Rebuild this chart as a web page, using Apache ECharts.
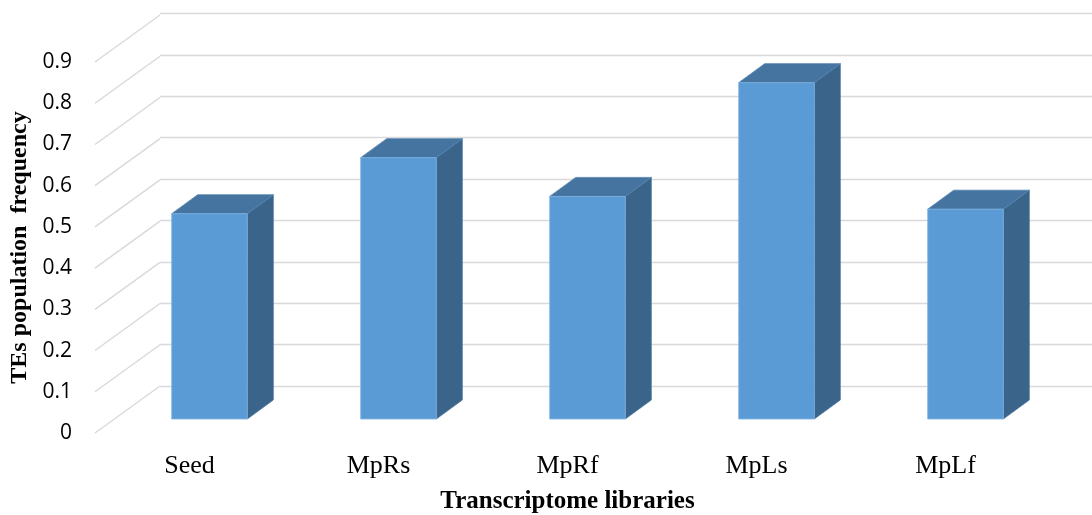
<!DOCTYPE html>
<html>
<head>
<meta charset="utf-8">
<script src="https://cdn.jsdelivr.net/npm/echarts@6/dist/echarts.min.js"></script>
<style>
  html, body { margin: 0; padding: 0; background: #fff; }
  #chart { width: 1092px; height: 515px; }
</style>
</head>
<body>
<div id="chart"></div>
<script>
// data
var libraries = ['Seed', 'MpRs', 'MpRf', 'MpLs', 'MpLf'];
var frequency = [0.498, 0.634, 0.54, 0.816, 0.509];
var freqTicks = [0, 0.1, 0.2, 0.3, 0.4, 0.5, 0.6, 0.7, 0.8, 0.9];

var chart = echarts.init(document.getElementById('chart'));

// depth of the floor (front edge -> back wall) and of one bar, in px
var floorDX = 65, floorDY = -47;
var barDX = 26, barDY = -19;

// diagonal floor / side-wall lines, starting on the front edge
function renderDiag(params, api) {
    var y = api.coord([0, api.value(1)])[1];
    var x = params.coordSys.x;
    return {
        type: 'line',
        shape: { x1: x, y1: y, x2: x + floorDX, y2: y + floorDY },
        style: { stroke: '#d9d9d9', lineWidth: 1.4 }
    };
}

// 3d column: side, top and front faces
function renderBar(params, api) {
    var top = api.coord([api.value(0), api.value(1)]);
    var base = api.coord([api.value(0), 0]);
    var w = api.size([1, 0])[0] * 0.4;
    var x0 = top[0] - w / 2, x1 = top[0] + w / 2;
    var y0 = top[1], y1 = base[1];
    return {
        type: 'group',
        children: [
            {
                type: 'polygon',
                shape: { points: [[x1, y1], [x1 + barDX, y1 + barDY], [x1 + barDX, y0 + barDY], [x1, y0]] },
                style: { fill: '#3A6489', stroke: '#4a76a0', lineWidth: 0.8 }
            },
            {
                type: 'polygon',
                shape: { points: [[x0, y0], [x1, y0], [x1 + barDX, y0 + barDY], [x0 + barDX, y0 + barDY]] },
                style: { fill: '#44749F', stroke: '#5684b0', lineWidth: 0.8 }
            },
            {
                type: 'polygon',
                shape: { points: [[x0, y1], [x1, y1], [x1, y0], [x0, y0]] },
                style: { fill: '#5B9BD5', stroke: '#7fb2e2', lineWidth: 0.8 }
            }
        ]
    };
}

var option = {
    backgroundColor: '#fff',
    animation: false,
    grid: [
        // back wall
        { left: 160, right: 0, top: 13.5, bottom: 129, outerBoundsMode: 'none', containLabel: false },
        // front edge of the floor (labels, titles)
        { left: 95, right: 52, top: 62, bottom: 82, outerBoundsMode: 'none', containLabel: false },
        // plane of the columns
        { left: 115, right: 32, top: 48, bottom: 96, outerBoundsMode: 'none', containLabel: false }
    ],
    xAxis: [
        { gridIndex: 0, type: 'value', min: 0, max: 1, show: false },
        {
            gridIndex: 1,
            type: 'category',
            data: libraries,
            axisLine: { show: false },
            axisTick: { show: false },
            axisLabel: {
                margin: 20,
                fontFamily: 'Liberation Serif',
                fontSize: 26,
                color: '#000'
            },
            name: 'Transcriptome libraries',
            nameLocation: 'middle',
            nameGap: 56,
            nameTextStyle: {
                fontFamily: 'Liberation Serif',
                fontWeight: 'bold',
                fontSize: 25,
                color: '#000'
            }
        },
        { gridIndex: 2, type: 'category', data: libraries, show: false }
    ],
    yAxis: [
        {
            gridIndex: 0,
            type: 'value',
            min: 0, max: 0.9, interval: 0.1,
            axisLine: { show: false },
            axisTick: { show: false },
            axisLabel: { show: false },
            splitLine: { lineStyle: { color: '#d9d9d9', width: 1.4 } }
        },
        {
            gridIndex: 1,
            type: 'value',
            min: 0, max: 0.9, interval: 0.1,
            axisLine: { show: false },
            axisTick: { show: false },
            splitLine: { show: false },
            axisLabel: {
                margin: 23,
                padding: [5, 0, 0, 0],
                fontFamily: 'Open Sans',
                fontSize: 21,
                color: '#000'
            },
            name: 'TEs population  frequency',
            nameLocation: 'middle',
            nameRotate: 90,
            nameGap: 62,
            nameTextStyle: {
                fontFamily: 'Liberation Serif',
                fontWeight: 'bold',
                fontSize: 24,
                color: '#000'
            }
        },
        {
            gridIndex: 2,
            type: 'value',
            min: 0, max: 0.9, interval: 0.1,
            show: false
        }
    ],
    series: [
        {
            type: 'custom',
            xAxisIndex: 1,
            yAxisIndex: 1,
            renderItem: renderDiag,
            data: freqTicks.map(function (v) { return [0, v]; }),
            silent: true,
            z: 1
        },
        {
            type: 'custom',
            xAxisIndex: 2,
            yAxisIndex: 2,
            renderItem: renderBar,
            data: libraries.map(function (c, i) { return [i, frequency[i]]; }),
            z: 3
        }
    ]
};

chart.setOption(option);
</script>
</body>
</html>
